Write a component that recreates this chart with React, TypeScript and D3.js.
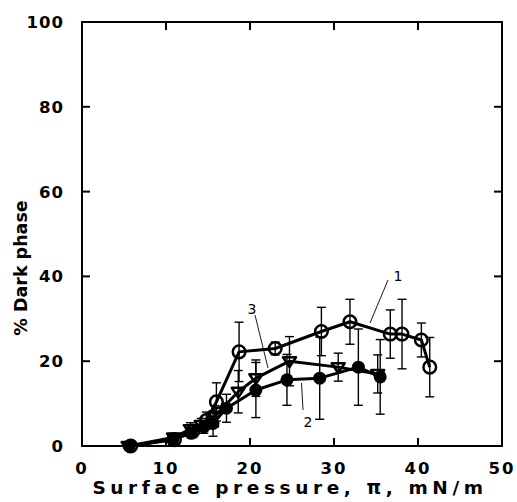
import React from "react";
import * as d3 from "d3";

const s1x = [5.8, 11.0, 13.2, 14.8, 16.0, 18.7, 23.0, 28.5, 31.9, 36.7, 38.1, 40.4, 41.4];
const s1y = [0, 1.5, 3.5, 6.0, 10.4, 22.2, 23.0, 27.0, 29.3, 26.4, 26.4, 25.0, 18.6];
const s1e = [0.5, 1, 1.5, 2, 4.5, 7, 1.5, 5.7, 5.3, 5.7, 8.2, 4, 7];

const s2x = [5.6, 10.8, 13.0, 14.5, 15.6, 17.2, 20.7, 24.4, 28.3, 32.9, 35.5];
const s2y = [0, 1.5, 3.0, 4.5, 5.3, 8.9, 13.2, 15.6, 16.0, 18.6, 16.3];
const s2e = [0.5, 1, 1, 1.5, 3, 3.3, 6.5, 6, 9.7, 9, 8.8];

const s3x = [5.5, 10.9, 12.9, 14.2, 15.8, 18.6, 20.7, 24.7, 30.5, 35.2];
const s3y = [0, 2.0, 4.0, 5.0, 7.0, 12.8, 16.0, 20.0, 18.6, 17.0];
const s3e = [0.5, 1, 1.5, 1.5, 2.5, 5, 4.3, 5.8, 3.3, 4.5];

const xTicks = [0, 10, 20, 30, 40, 50];
const yTicks = [0, 20, 40, 60, 80, 100];

const W = 517, H = 502;
const L = 82, R = 502, T = 22, B = 446;

const x = d3.scaleLinear().domain([0, 50]).range([L, R]);
const y = d3.scaleLinear().domain([0, 100]).range([B, T]);

const font = "'DejaVu Sans', sans-serif";

function ErrorBars({ xs, ys, es }: { xs: number[]; ys: number[]; es: number[] }) {
  return (
    <g stroke="#000" strokeWidth={1.4} fill="none">
      {xs.map((v, i) => {
        const cx = x(v), y0 = y(ys[i] - es[i]), y1 = y(ys[i] + es[i]);
        return (
          <g key={i}>
            <line x1={cx} x2={cx} y1={y0} y2={y1} />
            <line x1={cx - 4.5} x2={cx + 4.5} y1={y0} y2={y0} />
            <line x1={cx - 4.5} x2={cx + 4.5} y1={y1} y2={y1} />
          </g>
        );
      })}
    </g>
  );
}

function Line({ xs, ys }: { xs: number[]; ys: number[] }) {
  const gen = d3.line<number>().x((d) => x(d)).y((_, i) => y(ys[i]));
  return <path d={gen(xs) || ""} fill="none" stroke="#000" strokeWidth={3} strokeLinejoin="round" />;
}

export default function App() {
  const tri = (cx: number, cy: number) => {
    const r = 6.5;
    return `M${cx - r},${cy - r * 0.6}L${cx + r},${cy - r * 0.6}L${cx},${cy + r * 0.9}Z`;
  };
  return (
    <svg width={W} height={H} style={{ position: "absolute", left: 0, top: 0, background: "#fff" }}>
      <rect x={0} y={0} width={W} height={H} fill="#fff" />
      <rect x={L} y={T} width={R - L} height={B - T} fill="none" stroke="#000" strokeWidth={2} />
      {xTicks.map((t) => (
        <g key={"xt" + t}>
          {t > 0 && t < 50 && (
            <>
              <line x1={x(t)} x2={x(t)} y1={B} y2={B - 8} stroke="#000" strokeWidth={2} />
              <line x1={x(t)} x2={x(t)} y1={T} y2={T + 8} stroke="#000" strokeWidth={2} />
            </>
          )}
          <text x={x(t)} y={474} textAnchor="middle" fontFamily={font} fontWeight="bold" fontSize={16.5} letterSpacing={2}>
            {t}
          </text>
        </g>
      ))}
      {yTicks.map((t) => (
        <g key={"yt" + t}>
          {t > 0 && t < 100 && (
            <>
              <line x1={L} x2={L + 8} y1={y(t)} y2={y(t)} stroke="#000" strokeWidth={2} />
              <line x1={R} x2={R - 8} y1={y(t)} y2={y(t)} stroke="#000" strokeWidth={2} />
            </>
          )}
          <text x={64} y={y(t) + 6} textAnchor="end" fontFamily={font} fontWeight="bold" fontSize={16.5} letterSpacing={1}>
            {t}
          </text>
        </g>
      ))}
      <text x={290} y={494} textAnchor="middle" fontFamily={font} fontWeight="bold" fontSize={18.5} letterSpacing={4.6}>
        Surface pressure, π, mN/m
      </text>
      <text
        transform={`translate(27,268) rotate(-90)`}
        textAnchor="middle"
        fontFamily={font}
        fontWeight="bold"
        fontSize={17.5}
        letterSpacing={0}
      >
        % Dark phase
      </text>

      <ErrorBars xs={s1x} ys={s1y} es={s1e} />
      <ErrorBars xs={s2x} ys={s2y} es={s2e} />
      <ErrorBars xs={s3x} ys={s3y} es={s3e} />

      <Line xs={s1x} ys={s1y} />
      <Line xs={s2x} ys={s2y} />
      <Line xs={s3x} ys={s3y} />

      {s1x.map((v, i) => (
        <circle key={"c1" + i} cx={x(v)} cy={y(s1y[i])} r={6.3} fill="none" stroke="#000" strokeWidth={2.5} />
      ))}
      {s2x.map((v, i) => (
        <circle key={"c2" + i} cx={x(v)} cy={y(s2y[i])} r={6.5} fill="#000" />
      ))}
      {s3x.map((v, i) => (
        <path key={"t3" + i} d={tri(x(v), y(s3y[i]))} fill="none" stroke="#000" strokeWidth={2.5} strokeLinejoin="round" />
      ))}

      <g stroke="#000" strokeWidth={0.9}>
        <line x1={388} y1={280} x2={370} y2={323} />
        <line x1={255} y1={315} x2={268} y2={368} />
        <line x1={303} y1={410} x2={301.5} y2={383} />
      </g>
      <text x={398} y={281} textAnchor="middle" fontFamily={font} fontSize={14}>1</text>
      <text x={308} y={427} textAnchor="middle" fontFamily={font} fontSize={14}>2</text>
      <text x={252} y={314} textAnchor="middle" fontFamily={font} fontSize={14}>3</text>
    </svg>
  );
}
